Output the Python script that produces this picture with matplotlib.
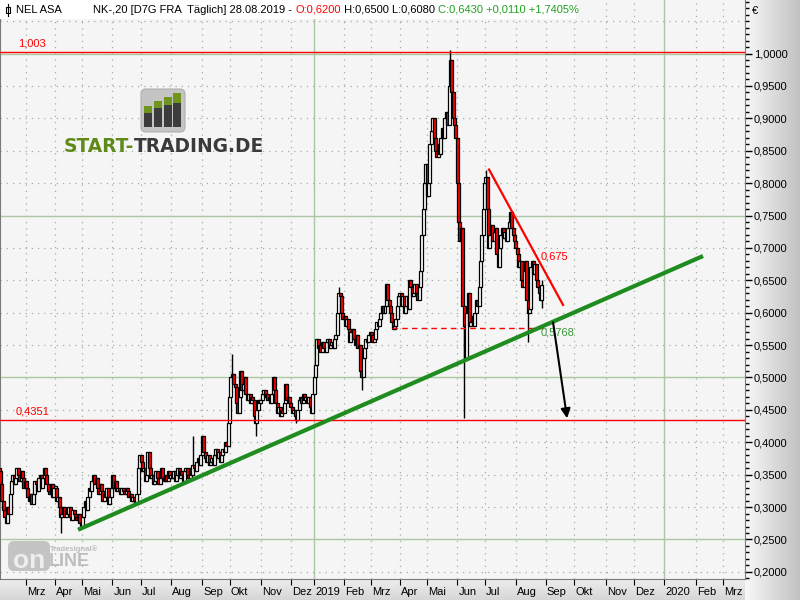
import numpy as np
import pandas as pd
import matplotlib
matplotlib.use("Agg")
import matplotlib.pyplot as plt
from matplotlib.patches import FancyBboxPatch, Rectangle
from matplotlib.ticker import FixedLocator, MultipleLocator, FuncFormatter
import matplotlib.transforms as mtrans

plt.rcParams['font.family'] = ['Liberation Sans', 'DejaVu Sans']

# daily closes, one list per month (NEL ASA, Frankfurt, EUR)
months = ["2018-02", "2018-03", "2018-04", "2018-05", "2018-06", "2018-07",
          "2018-08", "2018-09", "2018-10", "2018-11", "2018-12", "2019-01",
          "2019-02", "2019-03", "2019-04", "2019-05", "2019-06", "2019-07",
          "2019-08"]
feb18 = [0.355, 0.335, 0.31, 0.295, 0.285, 0.275, 0.30, 0.29, 0.32, 0.34,
         0.35, 0.335, 0.345, 0.36, 0.35, 0.34, 0.355, 0.345, 0.33, 0.34]
mar18 = [0.33, 0.315, 0.31, 0.32, 0.305, 0.32, 0.34, 0.335, 0.325, 0.345, 0.35,
         0.33, 0.345, 0.36, 0.35, 0.335, 0.325, 0.32, 0.335, 0.315, 0.33]
apr18 = [0.33, 0.31, 0.315, 0.30, 0.285, 0.29, 0.30, 0.285, 0.295, 0.29,
         0.30, 0.285, 0.28, 0.295, 0.29, 0.285, 0.28, 0.29, 0.275, 0.27]
may18 = [0.285, 0.30, 0.31, 0.295, 0.315, 0.33, 0.325, 0.34, 0.35, 0.335, 0.345,
         0.33, 0.32, 0.335, 0.325, 0.31, 0.32, 0.315, 0.33, 0.305, 0.315, 0.33]
jun18 = [0.35, 0.33, 0.34, 0.325, 0.33, 0.325, 0.32, 0.33, 0.325, 0.32, 0.33,
         0.325, 0.315, 0.32, 0.31, 0.315, 0.31, 0.305, 0.32, 0.36, 0.38]
jul18 = [0.37, 0.355, 0.36, 0.34, 0.35, 0.385, 0.36, 0.345, 0.35, 0.335, 0.34,
         0.355, 0.345, 0.335, 0.345, 0.36, 0.345, 0.34, 0.35, 0.34, 0.355, 0.345]
aug18 = [0.35, 0.345, 0.355, 0.34, 0.35, 0.36, 0.345, 0.355, 0.35, 0.34, 0.355,
         0.36, 0.35, 0.345, 0.36, 0.35, 0.365, 0.36, 0.355, 0.37, 0.375, 0.365, 0.38]
sep18 = [0.41, 0.385, 0.375, 0.37, 0.38, 0.365, 0.37, 0.375, 0.365, 0.38,
         0.39, 0.375, 0.385, 0.37, 0.38, 0.39, 0.385, 0.40, 0.395, 0.43]
oct18 = [0.47, 0.50, 0.505, 0.49, 0.485, 0.46, 0.445, 0.47, 0.51, 0.48, 0.49,
         0.50, 0.475, 0.465, 0.475, 0.46, 0.47, 0.465, 0.44, 0.43, 0.45, 0.465, 0.46]
nov18 = [0.465, 0.475, 0.48, 0.47, 0.475, 0.465, 0.47, 0.46, 0.475, 0.50, 0.48,
         0.46, 0.445, 0.455, 0.44, 0.45, 0.445, 0.46, 0.49, 0.465, 0.47, 0.46]
dec18 = [0.455, 0.445, 0.45, 0.44, 0.435, 0.45, 0.465, 0.47, 0.46, 0.475,
         0.465, 0.47, 0.46, 0.47, 0.455, 0.445, 0.475]
jan19 = [0.50, 0.52, 0.56, 0.545, 0.55, 0.54, 0.555, 0.545, 0.54, 0.555, 0.56,
         0.545, 0.55, 0.555, 0.545, 0.56, 0.565, 0.60, 0.63, 0.625, 0.60, 0.59]
feb19 = [0.595, 0.58, 0.59, 0.575, 0.555, 0.57, 0.575, 0.56, 0.55, 0.565,
         0.545, 0.55, 0.51, 0.50, 0.53, 0.545, 0.56, 0.555, 0.565, 0.57]
mar19 = [0.565, 0.555, 0.56, 0.575, 0.585, 0.58, 0.59, 0.60, 0.61, 0.60, 0.61,
         0.645, 0.62, 0.61, 0.60, 0.585, 0.575, 0.58, 0.59, 0.61, 0.625]
apr19 = [0.63, 0.61, 0.625, 0.60, 0.61, 0.625, 0.605, 0.65, 0.64, 0.625,
         0.63, 0.645, 0.63, 0.62, 0.64, 0.665, 0.72, 0.76, 0.80, 0.83]
may19 = [0.78, 0.80, 0.86, 0.88, 0.90, 0.87, 0.85, 0.84, 0.86, 0.845, 0.87,
         0.885, 0.87, 0.90, 0.91, 0.89, 0.95, 0.99, 0.94, 0.90, 0.89, 0.87]
jun19 = [0.80, 0.74, 0.71, 0.73, 0.61, 0.58, 0.53, 0.60, 0.63, 0.58,
         0.585, 0.595, 0.58, 0.60, 0.62, 0.61, 0.64, 0.68, 0.72, 0.76]
jul19 = [0.80, 0.81, 0.76, 0.70, 0.72, 0.735, 0.71, 0.725, 0.73, 0.69, 0.67,
         0.70, 0.72, 0.73, 0.715, 0.725, 0.71, 0.73, 0.74, 0.755, 0.73, 0.72, 0.71]
aug19 = [0.70, 0.69, 0.67, 0.68, 0.65, 0.64, 0.665, 0.68, 0.62, 0.60,
         0.605, 0.67, 0.68, 0.66, 0.675, 0.65, 0.64, 0.63, 0.62, 0.643]
month_closes = [feb18, mar18, apr18, may18, jun18, jul18, aug18, sep18, oct18,
                nov18, dec18, jan19, feb19, mar19, apr19, may19, jun19, jul19, aug19]
first_open = 0.36

# long wicks (month, trading day in month) -> price
wick_lows = {("2018-04", 4): 0.26, ("2018-10", 19): 0.41, ("2018-12", 4): 0.43,
             ("2019-02", 13): 0.48, ("2019-06", 5): 0.437, ("2019-08", 9): 0.555,
             ("2019-08", 19): 0.608}
wick_highs = {("2018-08", 16): 0.41, ("2018-10", 2): 0.536, ("2019-01", 18): 0.64,
              ("2019-05", 17): 1.005, ("2019-07", 1): 0.82, ("2019-08", 19): 0.65}

# exchange holidays in the history part (the future part is plain weekdays)
holidays = ["2018-03-30", "2018-04-02", "2018-05-01", "2018-12-24", "2018-12-25",
            "2018-12-26", "2018-12-31", "2019-01-01", "2019-04-19", "2019-04-22",
            "2019-05-01"]

resistance = 1.003
support = 0.4351
neckline = 0.5768
# drawn lines (trading-day index, price)
green_trend = ((57.8, 0.265), (516.3, 0.6875))
red_trend = ((359.3, 0.821), (413.6, 0.612))
neck_span = (288.1, 400.4)
arrow_from = (406.3, 0.585)
arrow_to = (416.6, 0.437)

month_names = ["Jan", "Feb", "Mrz", "Apr", "Mai", "Jun", "Jul", "Aug", "Sep",
               "Okt", "Nov", "Dez"]

# trading day axis
days = pd.bdate_range("2018-02-01", "2020-04-30", freq="C", holidays=holidays)
per = days.to_period("M")
first_idx = {}
for i, p in enumerate(per):
    first_idx.setdefault(str(p), i)

xs, closes = [], []
for m, vals in zip(months, month_closes):
    s = first_idx[m]
    for k, v in enumerate(vals):
        xs.append(s + k)
        closes.append(v)
xs = np.array(xs)
closes = np.array(closes)
opens = np.r_[first_open, closes[:-1]]
highs = np.maximum(opens, closes)
lows = np.minimum(opens, closes)
for (m, k), v in wick_lows.items():
    j = np.where(xs == first_idx[m] + k)[0][0]
    lows[j] = min(lows[j], v)
for (m, k), v in wick_highs.items():
    j = np.where(xs == first_idx[m] + k)[0][0]
    highs[j] = max(highs[j], v)

XMIN, XMAX = 0.56, 547.1

fig = plt.figure(figsize=(8, 6), dpi=100)
fig.patch.set_facecolor("#e2e2e2")

# background strips
bg = fig.add_axes([0, 0, 1, 1], zorder=0)
bg.set_xlim(0, 800)
bg.set_ylim(600, 0)
bg.axis("off")
grad = np.linspace(0.97, 0.76, 64).reshape(1, -1)
bg.imshow(np.dstack([grad] * 3), extent=(745, 800, 600, 0), aspect="auto")
gradv = np.linspace(0.93, 0.84, 32).reshape(-1, 1)
bg.imshow(np.dstack([gradv] * 3), extent=(0, 745, 600, 579), aspect="auto")

ax = fig.add_axes([0, 21 / 600, 745 / 800, 579 / 600], zorder=1)
ax.set_facecolor("#f5f5f5")
ax.set_xlim(XMIN, XMAX)
ax.set_ylim(0.189, 1.0826)

# grid
tick_pos, tick_lab = [], []
for p, i in first_idx.items():
    y, mo = int(p[:4]), int(p[5:])
    if i < 2 or i > XMAX - 2:
        continue
    tick_pos.append(i)
    tick_lab.append(str(y) if mo == 1 else month_names[mo - 1])
    if mo == 1:
        ax.axvline(i, color="#a9c8a3", lw=1, zorder=0)
    else:
        ax.axvline(i, color="#9fb09f", lw=0.9, dashes=(1, 4), zorder=0)
for v in np.arange(0.20, 1.06, 0.05):
    if abs(v / 0.25 - round(v / 0.25)) < 1e-6:
        ax.axhline(v, color="#a9c8a3", lw=1, zorder=0)
    else:
        ax.axhline(v, color="#9fb09f", lw=0.9, dashes=(1, 4), zorder=0)

# candles
ax.vlines(xs, lows, highs, color="black", lw=1.0, zorder=2)
body_bottom = np.minimum(opens, closes)
body_h = np.maximum(np.abs(closes - opens), 0.002)
cols = np.where(closes < opens, "#ff0000", "white")
ax.bar(xs, body_h, bottom=body_bottom, width=2.2, color=cols,
       edgecolor="black", linewidth=0.9, zorder=3)

# horizontal levels
ax.axhline(resistance, color="#ff0000", lw=1, zorder=4)
ax.axhline(support, color="#ff0000", lw=1, zorder=4)
ax.text(13.8, resistance + 0.004, "1,003", color="#ff0000", fontsize=8, va="bottom", zorder=5)
ax.text(12.3, support + 0.004, "0,4351", color="#ff0000", fontsize=8, va="bottom", zorder=5)
ax.plot(neck_span, [neckline, neckline], color="#ff0000", lw=1, dashes=(4, 3), zorder=4)

# trend lines
ax.plot([green_trend[0][0], green_trend[1][0]], [green_trend[0][1], green_trend[1][1]],
        color="#1e8c1e", lw=3, solid_capstyle="butt", zorder=5)
ax.plot([red_trend[0][0], red_trend[1][0]], [red_trend[0][1], red_trend[1][1]],
        color="#ff0000", lw=1.6, zorder=5)
ax.text(397.5, 0.686, "0,675", color="#ff0000", fontsize=8, va="center", zorder=6)
ax.text(397.5, 0.569, "0,5768", color="#3a9a3a", fontsize=8, va="center", zorder=6)
ax.annotate("", xy=arrow_to, xytext=arrow_from,
            arrowprops=dict(arrowstyle="-|>", color="black", lw=1.5,
                            mutation_scale=14, shrinkA=0, shrinkB=0), zorder=6)

# axes ticks
ax.yaxis.tick_right()
ax.yaxis.set_major_locator(FixedLocator(np.round(np.arange(0.20, 1.001, 0.05), 2)))
ax.yaxis.set_minor_locator(MultipleLocator(0.01))
ax.yaxis.set_major_formatter(FuncFormatter(lambda v, p: f"{v:.4f}".replace(".", ",")))
ax.tick_params(axis="y", which="major", direction="out", length=5, width=1,
               labelsize=8, pad=1.5)
ax.tick_params(axis="y", which="minor", direction="out", length=3, width=1)
ax.set_xticks(tick_pos)
ax.set_xticklabels(tick_lab)
ax.tick_params(axis="x", direction="out", length=4, labelsize=8, pad=2)
shift = mtrans.ScaledTranslation(0.8 / 72, 0, fig.dpi_scale_trans)
for lbl in ax.get_xticklabels():
    lbl.set_ha("left")
    lbl.set_transform(lbl.get_transform() + shift)
for s in ["left", "right", "bottom"]:
    ax.spines[s].set_color("#7a7a7a")
ax.spines["top"].set_visible(False)

# overlay: header, logos
ov = fig.add_axes([0, 0, 1, 1], zorder=3)
ov.set_xlim(0, 800)
ov.set_ylim(600, 0)
ov.axis("off")
ov.patch.set_alpha(0)
ov.add_patch(Rectangle((0, 0), 576, 19, facecolor="white", edgecolor="none"))
ov.plot([8, 8], [4, 16], color="black", lw=0.8)
ov.add_patch(Rectangle((6, 7), 4, 6, facecolor="white", edgecolor="black", lw=0.8))
ov.text(16, 10, "NEL ASA", fontsize=8, va="center")
t = ov.text(93, 10, "NK-,20 [D7G FRA  Täglich] 28.08.2019 - ", fontsize=8, va="center")
for seg, col in [("O:0,6200", "#ff0000"), (" H:0,6500 L:0,6080 ", "black"),
                 ("C:0,6430 +0,0110 +1,7405%", "#1fa01f")]:
    t = ov.annotate(seg, xy=(1, 0), xycoords=t, va="bottom", ha="left",
                    fontsize=8, color=col)
ov.text(752, 11, "€", fontsize=8, va="center")

# start-trading logo
ov.add_patch(FancyBboxPatch((141, 89), 44, 43, boxstyle="round,pad=0,rounding_size=5",
                            facecolor="#c4c4c4", edgecolor="#b0b0b0", lw=0.8))
for bx, gtop, dtop in [(144.3, 106, 113.3), (154, 101, 108.3),
                       (163.7, 96.7, 105), (172.7, 93.3, 103.3)]:
    ov.add_patch(Rectangle((bx, gtop), 8, dtop - gtop, facecolor="#6f961c", edgecolor="none"))
    ov.add_patch(Rectangle((bx, dtop), 8, 126.7 - dtop, facecolor="#3c3c3c", edgecolor="none"))
t1 = ov.text(64, 146, "START-", fontsize=13.4, fontweight="bold", color="#5f8a1a",
             va="center", ha="left", family="DejaVu Sans")
ov.annotate("TRADING.DE", xy=(1, 0), xycoords=t1, va="bottom", ha="left",
            fontsize=13.4, fontweight="bold", color="#3a3a3a", family="DejaVu Sans")

# tradesignal watermark
ov.add_patch(FancyBboxPatch((8, 541), 42, 30, boxstyle="round,pad=0,rounding_size=6",
                            facecolor="#c4c4c4", edgecolor="none"))
ov.text(29, 561, "on", fontsize=19, fontweight="bold", color="#eeeeee",
        ha="center", va="center")
ov.text(50, 549.5, "Tradesignal®", fontsize=5.5, fontweight="bold", color="#bdbdbd",
        va="center")
ov.text(49, 562, "LINE", fontsize=13, fontweight="bold", color="#bdbdbd", va="center")

fig.savefig("out.png", dpi=100)
